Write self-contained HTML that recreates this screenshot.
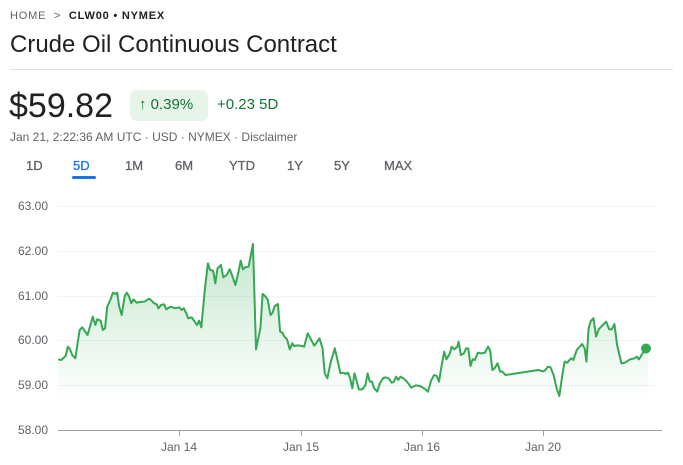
<!DOCTYPE html>
<html><head><meta charset="utf-8"><style>
body{margin:0;width:683px;height:465px;background:#fff;font-family:"Liberation Sans",sans-serif;position:relative;overflow:hidden;color:#202124}
.a{position:absolute;white-space:nowrap}
</style></head><body>
<div class="a" style="left:10px;top:10px;font-size:11px;letter-spacing:0.8px;color:#5f6368">HOME&nbsp;&nbsp;&gt;&nbsp;&nbsp;<b style="color:#202124">CLW00 • NYMEX</b></div>
<div class="a" style="left:10px;top:31px;font-size:24px;color:#202124">Crude Oil Continuous Contract</div>
<div class="a" style="left:10px;top:69px;width:663px;height:1px;background:#e0e0e0"></div>
<div class="a" style="left:9px;top:87px;font-size:34px;color:#202124">$59.82</div>
<div class="a" style="left:130px;top:90px;width:78px;height:31px;background:#e6f4ea;border-radius:7px"></div>
<div class="a" style="left:139px;top:96px;font-size:15px;color:#137333">↑ 0.39%</div>
<div class="a" style="left:217px;top:96px;font-size:15px;color:#137333">+0.23 5D</div>
<div class="a" style="left:10px;top:130px;font-size:12px;color:#5f6368">Jan 21, 2:22:36 AM UTC · USD · NYMEX · Disclaimer</div>
<div class="a" style="top:158px;left:0;font-size:13px;color:#5f6368;-webkit-text-stroke:0.3px">
<span class="a" style="left:26px">1D</span><span class="a" style="left:73px;color:#1a73e8">5D</span><span class="a" style="left:125px">1M</span><span class="a" style="left:175px">6M</span><span class="a" style="left:229px">YTD</span><span class="a" style="left:287px">1Y</span><span class="a" style="left:334px">5Y</span><span class="a" style="left:384px">MAX</span></div>
<div class="a" style="left:72px;top:176px;width:24px;height:3px;background:#1a73e8;border-radius:2px"></div>
<div class="a" style="left:0;top:199px;font-size:12px;color:#5f6368;width:48px;text-align:right">
<div class="a" style="right:0;top:0">63.00</div><div class="a" style="right:0;top:45px">62.00</div><div class="a" style="right:0;top:90px">61.00</div><div class="a" style="right:0;top:134px">60.00</div><div class="a" style="right:0;top:179px">59.00</div><div class="a" style="right:0;top:224px">58.00</div></div>
<div class="a" style="top:440px;left:0;font-size:12px;color:#5f6368">
<span class="a" style="left:161px">Jan 14</span><span class="a" style="left:283px">Jan 15</span><span class="a" style="left:404px">Jan 16</span><span class="a" style="left:525px">Jan 20</span></div>
<svg class="a" style="left:0;top:0" width="683" height="465">
<defs><linearGradient id="g" x1="0" y1="0" x2="0" y2="1"><stop offset="0" stop-color="#34a853" stop-opacity="0.28"/><stop offset="1" stop-color="#34a853" stop-opacity="0"/></linearGradient></defs>
<g stroke="#f1f3f4" stroke-width="1">
<line x1="58" x2="657" y1="206.5" y2="206.5"/><line x1="58" x2="657" y1="251.5" y2="251.5"/><line x1="58" x2="657" y1="296.5" y2="296.5"/><line x1="58" x2="657" y1="340.5" y2="340.5"/><line x1="58" x2="657" y1="385.5" y2="385.5"/></g>
<line x1="58" x2="662" y1="430.5" y2="430.5" stroke="#9aa0a6"/>
<g stroke="#9aa0a6"><line x1="179.5" x2="179.5" y1="430" y2="436"/><line x1="301.5" x2="301.5" y1="430" y2="436"/><line x1="422.5" x2="422.5" y1="430" y2="436"/><line x1="543.5" x2="543.5" y1="430" y2="436"/></g>
<g transform="translate(0,190) scale(0.43764,0.33333)">
<polygon fill="url(#g)" points="133,640 133,508 140,510 150,498 155,470 160,478 165,495 172,505 182,420 188,412 200,435 212,380 218,405 222,388 230,392 235,420 240,415 245,350 252,330 258,308 265,312 268,308 272,348 278,375 285,318 290,308 295,320 300,340 305,328 312,338 320,336 330,335 340,326 345,330 352,340 358,343 362,355 368,345 375,343 380,358 390,350 400,355 410,352 415,360 420,355 425,368 430,385 438,382 445,395 450,405 455,392 460,412 468,300 475,220 480,240 487,242 492,280 497,235 505,225 510,262 518,255 525,238 530,255 538,285 545,245 550,212 555,238 560,232 568,230 578,162 585,478 590,445 595,415 600,312 607,320 612,330 618,375 622,370 628,348 635,342 640,425 645,428 650,440 656,448 662,478 668,460 672,468 680,466 690,468 695,470 703,430 710,447 718,467 725,455 730,445 737,475 742,550 748,565 755,520 765,475 772,515 778,550 785,548 790,552 795,548 800,565 805,595 810,550 815,573 820,598 828,598 835,585 840,550 845,575 850,575 855,595 862,605 868,580 875,565 880,562 888,565 895,578 900,575 905,560 910,570 915,560 922,565 930,575 940,593 950,586 960,588 970,596 978,605 985,572 992,555 998,558 1003,575 1010,520 1015,485 1020,508 1028,490 1032,470 1038,478 1045,470 1048,455 1053,495 1060,490 1065,475 1070,475 1075,528 1080,508 1085,510 1092,488 1100,490 1108,488 1115,470 1120,482 1125,540 1130,535 1137,520 1143,545 1148,545 1155,555 1230,540 1240,544 1245,542 1252,530 1258,532 1265,555 1272,595 1278,618 1285,555 1290,515 1296,518 1300,512 1305,505 1310,510 1318,480 1330,462 1336,475 1340,515 1345,415 1350,393 1356,385 1362,440 1368,418 1375,408 1385,395 1392,418 1398,418 1404,402 1410,465 1420,520 1428,518 1440,508 1450,505 1455,500 1460,508 1468,490 1480,475 1480,640"/>
<polyline fill="none" stroke="#34a853" stroke-width="2" vector-effect="non-scaling-stroke" stroke-linejoin="round" points="133,508 140,510 150,498 155,470 160,478 165,495 172,505 182,420 188,412 200,435 212,380 218,405 222,388 230,392 235,420 240,415 245,350 252,330 258,308 265,312 268,308 272,348 278,375 285,318 290,308 295,320 300,340 305,328 312,338 320,336 330,335 340,326 345,330 352,340 358,343 362,355 368,345 375,343 380,358 390,350 400,355 410,352 415,360 420,355 425,368 430,385 438,382 445,395 450,405 455,392 460,412 468,300 475,220 480,240 487,242 492,280 497,235 505,225 510,262 518,255 525,238 530,255 538,285 545,245 550,212 555,238 560,232 568,230 578,162 585,478 590,445 595,415 600,312 607,320 612,330 618,375 622,370 628,348 635,342 640,425 645,428 650,440 656,448 662,478 668,460 672,468 680,466 690,468 695,470 703,430 710,447 718,467 725,455 730,445 737,475 742,550 748,565 755,520 765,475 772,515 778,550 785,548 790,552 795,548 800,565 805,595 810,550 815,573 820,598 828,598 835,585 840,550 845,575 850,575 855,595 862,605 868,580 875,565 880,562 888,565 895,578 900,575 905,560 910,570 915,560 922,565 930,575 940,593 950,586 960,588 970,596 978,605 985,572 992,555 998,558 1003,575 1010,520 1015,485 1020,508 1028,490 1032,470 1038,478 1045,470 1048,455 1053,495 1060,490 1065,475 1070,475 1075,528 1080,508 1085,510 1092,488 1100,490 1108,488 1115,470 1120,482 1125,540 1130,535 1137,520 1143,545 1148,545 1155,555 1230,540 1240,544 1245,542 1252,530 1258,532 1265,555 1272,595 1278,618 1285,555 1290,515 1296,518 1300,512 1305,505 1310,510 1318,480 1330,462 1336,475 1340,515 1345,415 1350,393 1356,385 1362,440 1368,418 1375,408 1385,395 1392,418 1398,418 1404,402 1410,465 1420,520 1428,518 1440,508 1450,505 1455,500 1460,508 1468,490 1480,475"/>
</g>
<circle cx="646" cy="348.5" r="5" fill="#34a853"/>
</svg>
</body></html>
